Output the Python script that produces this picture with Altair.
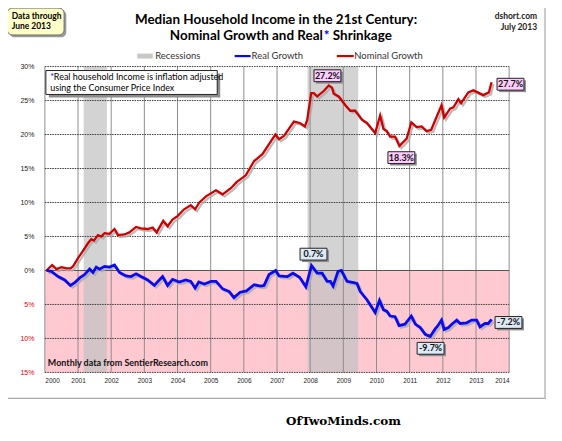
import altair as alt
import pandas as pd

# ---------------- data ----------------
nom_year = [2000.05, 2000.22, 2000.35, 2000.50, 2000.63, 2000.77, 2000.85, 2001.00, 2001.15, 2001.30,
            2001.40, 2001.48, 2001.60, 2001.70, 2001.80, 2001.95, 2002.10, 2002.20, 2002.40, 2002.55,
            2002.75, 2002.90, 2003.10, 2003.25, 2003.37, 2003.57, 2003.70, 2003.85, 2004.00, 2004.20,
            2004.40, 2004.53, 2004.66, 2004.86, 2005.16, 2005.36, 2005.61, 2005.78, 2006.06, 2006.31,
            2006.56, 2006.76, 2006.95, 2007.06, 2007.21, 2007.51, 2007.69, 2007.84, 2007.91, 2008.03,
            2008.11, 2008.21, 2008.41, 2008.56, 2008.66, 2008.71, 2008.86, 2009.06, 2009.21, 2009.36,
            2009.56, 2009.71, 2009.96, 2010.11, 2010.21, 2010.31, 2010.41, 2010.56, 2010.69, 2010.91,
            2011.05, 2011.21, 2011.36, 2011.51, 2011.65, 2011.77, 2011.96, 2012.04, 2012.22, 2012.32,
            2012.47, 2012.55, 2012.77, 2012.92, 2013.05, 2013.22, 2013.39, 2013.47]
nom_val = [0.0, 0.8, 0.2, 0.5, 0.35, 0.3, 0.6, 1.8, 2.9, 4.0,
           4.6, 4.4, 5.2, 5.0, 5.5, 5.4, 6.1, 5.2, 5.3, 5.6,
           6.4, 6.2, 6.1, 6.3, 5.6, 7.3, 6.5, 7.5, 8.0, 9.0,
           9.6, 9.0, 10.0, 10.9, 11.8, 11.2, 12.1, 13.0, 14.0, 16.1,
           17.1, 18.6, 20.0, 19.3, 19.8, 21.9, 21.7, 21.2, 22.1, 26.1,
           26.1, 25.6, 26.4, 27.2, 26.9, 26.0, 25.6, 24.3, 23.5, 23.5,
           22.2, 21.7, 20.2, 22.8, 20.8, 20.5, 19.7, 19.7, 18.3, 19.4,
           21.8, 21.1, 21.2, 20.5, 20.7, 22.1, 24.3, 22.5, 23.8, 24.0,
           25.2, 24.6, 26.2, 26.5, 26.2, 25.8, 26.2, 27.7]

real_year = [2000.05, 2000.20, 2000.40, 2000.60, 2000.77, 2000.90, 2001.05, 2001.20, 2001.35, 2001.45,
             2001.55, 2001.65, 2001.80, 2001.95, 2002.10, 2002.25, 2002.45, 2002.60, 2002.75, 2002.90,
             2003.10, 2003.30, 2003.45, 2003.55, 2003.70, 2003.85, 2004.05, 2004.25, 2004.40, 2004.53,
             2004.64, 2004.81, 2005.01, 2005.16, 2005.36, 2005.56, 2005.70, 2005.89, 2006.08, 2006.31,
             2006.51, 2006.61, 2006.76, 2006.96, 2007.06, 2007.31, 2007.48, 2007.68, 2007.87, 2008.04,
             2008.21, 2008.36, 2008.51, 2008.61, 2008.69, 2008.84, 2008.94, 2009.11, 2009.31, 2009.41,
             2009.51, 2009.71, 2009.96, 2010.09, 2010.21, 2010.31, 2010.41, 2010.56, 2010.68, 2010.86,
             2011.05, 2011.17, 2011.32, 2011.47, 2011.62, 2011.77, 2011.84, 2011.96, 2012.04, 2012.17,
             2012.27, 2012.42, 2012.52, 2012.72, 2012.87, 2013.02, 2013.12, 2013.27, 2013.37, 2013.47]
real_val = [0.0, -0.15, -0.9, -1.4, -2.2, -1.8, -1.1, -0.6, 0.2, -0.3,
            0.5, 0.2, 0.6, 0.5, 0.8, -0.3, -0.8, -0.9, -0.5, -0.9,
            -1.4, -2.2, -1.4, -0.9, -2.2, -1.3, -1.7, -1.4, -1.6, -2.6,
            -1.7, -2.0, -1.6, -1.6, -2.7, -3.1, -4.0, -3.2, -3.0, -2.1,
            -2.3, -2.2, -0.6, 0.0, -0.8, -0.9, -0.4, -1.0, -2.4, 0.7,
            -0.4, -0.4, -1.6, -1.6, -2.3, -0.15, 0.0, -1.6, -1.8, -1.9,
            -3.1, -4.3, -6.2, -4.4, -5.8, -6.0, -6.7, -6.8, -8.1, -7.9,
            -6.7, -7.9, -8.4, -9.4, -9.7, -8.6, -8.2, -7.3, -8.7, -8.4,
            -7.9, -7.3, -7.8, -7.7, -7.3, -7.3, -8.3, -7.8, -7.8, -7.2]

rec_start = [2001.17, 2007.92]
rec_end = [2001.87, 2009.45]

x_ticks = list(range(2000, 2015))
y_ticks = [-15, -10, -5, 5, 10, 15, 20, 25, 30]

red_labels = ["27.2%", "27.7%", "18.3%"]
red_label_x = [2008.52, 2014.04, 2010.75]
red_label_y = [28.65, 27.4, 16.6]
blue_labels = ["0.7%", "-7.2%", "-9.7%"]
blue_label_x = [2008.10, 2013.98, 2011.63]
blue_label_y = [2.4, -7.65, -11.45]

# ---------------- tables ----------------
nom = pd.DataFrame({"year": nom_year, "value": nom_val})
real = pd.DataFrame({"year": real_year, "value": real_val})
rec = pd.DataFrame({"start": rec_start, "end": rec_end})
pink = pd.DataFrame({"start": [2000], "end": [2014], "top": [0], "bottom": [-15]})
xt = pd.DataFrame({"year": x_ticks})
yt = pd.DataFrame({"v": y_ticks})
zero = pd.DataFrame({"v": [0]})
rl = pd.DataFrame({"year": red_label_x, "value": red_label_y, "label": red_labels})
bl = pd.DataFrame({"year": blue_label_x, "value": blue_label_y, "label": blue_labels})
note_src = pd.DataFrame({"year": [2000.09], "value": [-13.66], "label": ["Monthly data from SentierResearch.com"]})
dummy = pd.DataFrame({"a": [0]})

W, H = 466, 307
FONT = "Lato"

xscale = alt.Scale(domain=[2000, 2014], nice=False, zero=False)
yscale = alt.Scale(domain=[-15, 30], nice=False, zero=False)
xaxis = alt.Axis(values=x_ticks, format="d", title=None, grid=False, domain=False, ticks=False,
                 labelFontSize=6.5, labelFont="Liberation Sans", labelPadding=5, labelColor="#222",
                 zindex=1)
yaxis = alt.Axis(values=[-15, -10, -5, 0, 5, 10, 15, 20, 25, 30], title=None, grid=False, domain=False,
                 ticks=False, labelFontSize=7, labelFont="Liberation Sans", labelPadding=11, zindex=1,
                 labelExpr="(datum.value < 0 ? -datum.value : datum.value) + '%'",
                 labelColor={"condition": {"test": "datum.value < 0", "value": "#E00000"}, "value": "#222"})


def X(f):
    return alt.X(f, type="quantitative", scale=xscale, axis=xaxis)


def Y(f):
    return alt.Y(f, type="quantitative", scale=yscale, axis=yaxis)


def ptext(txt, x, y, size=9, bold=False, color="#000", align="left", font=FONT):
    return alt.Chart(dummy).mark_text(text=txt, align=align, baseline="middle", fontSize=size,
                                      fontWeight="bold" if bold else "normal", color=color,
                                      font=font).encode(x=alt.value(x), y=alt.value(y))


def prect(x, y, x2, y2, fill, stroke=None, sw=1, radius=0, fill_opacity=1):
    kw = dict(fill=fill, cornerRadius=radius, fillOpacity=fill_opacity)
    if stroke:
        kw.update(stroke=stroke, strokeWidth=sw)
    return alt.Chart(dummy).mark_rect(**kw).encode(x=alt.value(x), x2=alt.value(x2),
                                                   y=alt.value(y), y2=alt.value(y2))


def prule(x, x2, y, color, sw):
    return alt.Chart(dummy).mark_rule(color=color, strokeWidth=sw).encode(
        x=alt.value(x), x2=alt.value(x2), y=alt.value(y))


layers = []
# outer frame
layers.append(prect(-41, -62, 502, 333, "#FFFFFF", "#A8A8A8", 1.2, fill_opacity=0))

# pink negative zone
layers.append(alt.Chart(pink).mark_rect(color="#FFC9D2").encode(
    x=X("start"), x2="end", y=Y("top"), y2="bottom"))
# recessions
layers.append(alt.Chart(rec).mark_rect(color="#C2C2C2", opacity=0.72).encode(
    x=X("start"), x2="end", y=alt.value(0), y2=alt.value(H)))
# vertical grid
layers.append(alt.Chart(xt).mark_rule(color="#8E8E8E", strokeWidth=1).encode(x=X("year")))
# horizontal grid
layers.append(alt.Chart(yt).mark_rule(color="#3A3A3A", strokeWidth=1, strokeDash=[1.5, 1]).encode(
    y=Y("v"), x=alt.value(0), x2=alt.value(W)))
layers.append(alt.Chart(zero).mark_rule(color="#555555", strokeWidth=1.2).encode(
    y=Y("v"), x=alt.value(0), x2=alt.value(W)))

# line shadows & lines
layers.append(alt.Chart(nom).mark_line(color="#A9A9A9", strokeWidth=2.2, xOffset=2, yOffset=2,
                                       opacity=0.8).encode(x=X("year"), y=Y("value")))
layers.append(alt.Chart(real).mark_line(color="#A9A9A9", strokeWidth=2.4, xOffset=2, yOffset=2,
                                        opacity=0.8).encode(x=X("year"), y=Y("value")))
layers.append(alt.Chart(nom).mark_line(color="#CC0000", strokeWidth=2.3).encode(x=X("year"), y=Y("value")))
layers.append(alt.Chart(real).mark_line(color="#0A0AF0", strokeWidth=2.8).encode(x=X("year"), y=Y("value")))

# label boxes
box_shape = "M-1,-0.44L1,-0.44L1,0.44L-1,0.44Z"
for df, fill in [(rl, "#FFCCFF"), (bl, "#DDE9F6")]:
    layers.append(alt.Chart(df).mark_point(shape=box_shape, size=729, filled=True, color="#8C8C8C",
                                           xOffset=2, yOffset=2, opacity=1).encode(x=X("year"), y=Y("value")))
    layers.append(alt.Chart(df).mark_point(shape=box_shape, size=729, filled=True, fill=fill,
                                           stroke="#222", strokeWidth=1, opacity=1).encode(x=X("year"), y=Y("value")))
    layers.append(alt.Chart(df).mark_text(fontSize=9, fontWeight="bold", font=FONT, color="#111",
                                          baseline="middle").encode(x=X("year"), y=Y("value"), text="label"))

# source note inside plot
layers.append(alt.Chart(note_src).mark_text(fontSize=9, fontWeight="bold", font=FONT, color="#111",
                                            align="left", baseline="middle").encode(
    x=X("year"), y=Y("value"), text="label"))

# inflation note box
layers.append(prect(4, 7, 176, 31, "#8C8C8C"))
layers.append(prect(1, 4, 173, 28, "#FFFFFF", "#222", 1))
layers.append(ptext("*", 5.5, 10, 9, False, "#0000FF"))
layers.append(ptext("Real household  Income is inflation adjusted", 9, 10.5, 9))
layers.append(ptext("using  the Consumer Price Index", 5.5, 21.5, 9))

# title
layers.append(ptext("Median Household Income in the 21st Century:", 232, -47, 13.5, True, align="center"))
layers.append(ptext("Nominal  Growth and Real", 279, -31, 13.5, True, align="right"))
layers.append(ptext("*", 280, -31, 13.5, True, "#0000FF"))
layers.append(ptext("Shrinkage", 289, -31, 13.5, True))

# data-through box
layers.append(prect(-35.5, -56.5, 21.5, -29.5, "#9A9A9A", radius=5))
layers.append(prect(-37.7, -58.7, 19.3, -31.7, "#FFFFC8", "#6E6E6E", 1, radius=5))
layers.append(ptext("Data through", -33.3, -51, 8.5, True))
layers.append(ptext("June 2013", -33.3, -40.3, 8.5, True))

# top right
layers.append(ptext("dshort.com", 494, -50.3, 8.5, True, "#222", align="right"))
layers.append(ptext("July 2013", 494, -39.3, 8.5, True, "#222", align="right"))

# legend
layers.append(prect(92.7, -13, 108.3, -8, "#C8C8C8"))
layers.append(ptext("Recessions", 110.7, -10.5, 9.5, False, "#333"))
layers.append(prule(190.5, 206.5, -10.5, "#0A0AF0", 2.2))
layers.append(ptext("Real Growth", 207.5, -10.5, 9.5, False, "#333"))
layers.append(prule(293, 310, -10.5, "#CC0000", 2.2))
layers.append(ptext("Nominal Growth", 310.5, -10.5, 9.5, False, "#333"))

# footer
layers.append(ptext("OfTwoMinds.com", 242, 355.5, 12, True, "#000", font="DejaVu Serif"))

chart = alt.layer(*layers).properties(
    width=W, height=H,
    autosize=alt.AutoSizeParams(type="none"),
    padding={"left": 37, "top": 58, "right": 45, "bottom": 55},
).configure_view(stroke=None)

chart.save("out.html", embed_options={"renderer": "svg", "actions": False})
